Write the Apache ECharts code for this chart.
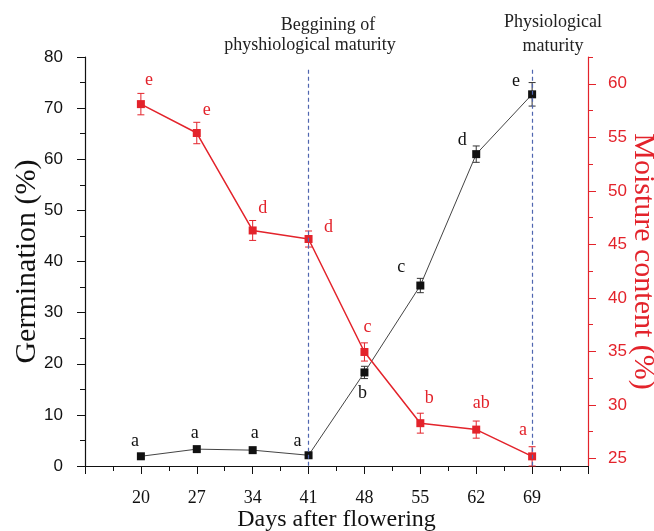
<!DOCTYPE html>
<html>
<head>
<meta charset="utf-8">
<script src="https://cdn.jsdelivr.net/npm/echarts@6/dist/echarts.min.js"></script>
<style>
html, body { margin: 0; padding: 0; background: #fff; }
#chart { width: 654px; height: 531px; }
</style>
</head>
<body>
<div id="chart"></div>
<script>
// days after flowering
var days = [20, 27, 34, 41, 48, 55, 62, 69];
// germination (%) - left axis
var germination = [1.9, 3.3, 3.1, 2.1, 18.3, 35.3, 61.0, 72.7];
var germErr = [0.4, 0.4, 0.4, 0.4, 1.2, 1.4, 1.6, 2.3];
var germLetters = ['a', 'a', 'a', 'a', 'b', 'c', 'd', 'e'];
// moisture content (%) - right axis
var moisture = [58.1, 55.4, 46.3, 45.5, 34.95, 28.3, 27.7, 25.2];
var moistErr = [1.0, 1.0, 0.93, 0.75, 0.85, 0.93, 0.8, 0.9];
var moistLetters = ['e', 'e', 'd', 'd', 'c', 'b', 'ab', 'a'];
// stage markers
var stageDays = [41, 69];
var leftTicks = [0, 10, 20, 30, 40, 50, 60, 70, 80];
var rightTicks = [25, 30, 35, 40, 45, 50, 55, 60];
var rightMinor = [27.5, 32.5, 37.5, 42.5, 47.5, 52.5, 57.5, 62.5];

var RED = '#e3232b';
var BLACK = '#111';
var SERIF = '"Liberation Serif", "Times New Roman", serif';
var SANS = '"Liberation Sans", Arial, sans-serif';

// label offsets (px) for the significance letters
var germOffsets = [[-6, -15], [-2, -16], [2, -17], [-11, -14], [-2, 21], [-19, -18], [-14, -14], [-16, -13]];
var moistOffsets = [[8, -24], [10, -23], [10, -22], [20, -12], [3, -25], [9, -25], [5, -26], [-9, -26]];

function points(vals, letters, offsets) {
  return days.map(function (d, i) {
    return {
      value: [d, vals[i]],
      label: { formatter: letters[i], offset: offsets[i] }
    };
  });
}

function errData(vals, errs) {
  return days.map(function (d, i) { return [d, vals[i], errs[i]]; });
}

function errorBars(color) {
  return function (params, api) {
    var x = api.value(0), y = api.value(1), e = api.value(2);
    var hi = api.coord([x, y + e]);
    var lo = api.coord([x, y - e]);
    var w = 3.5;
    var st = { stroke: color, lineWidth: 1 };
    return {
      type: 'group',
      children: [
        { type: 'line', shape: { x1: hi[0], y1: hi[1], x2: lo[0], y2: lo[1] }, style: st },
        { type: 'line', shape: { x1: hi[0] - w, y1: hi[1], x2: hi[0] + w, y2: hi[1] }, style: st },
        { type: 'line', shape: { x1: lo[0] - w, y1: lo[1], x2: lo[0] + w, y2: lo[1] }, style: st }
      ]
    };
  };
}

var chart = echarts.init(document.getElementById('chart'));

var option = {
  backgroundColor: '#fff',
  animation: false,
  grid: { left: 85, right: 66, top: 57, bottom: 65, containLabel: false, outerBoundsMode: 'none' },
  graphic: [
    { type: 'text', style: { text: 'Beggining of', x: 328, y: 25, font: '18px ' + SERIF, fill: '#222', textAlign: 'center', textVerticalAlign: 'middle' } },
    { type: 'text', style: { text: 'physhiological maturity', x: 310, y: 45, font: '18px ' + SERIF, fill: '#222', textAlign: 'center', textVerticalAlign: 'middle' } },
    { type: 'text', style: { text: 'Physiological', x: 553, y: 22, font: '18px ' + SERIF, fill: '#222', textAlign: 'center', textVerticalAlign: 'middle' } },
    { type: 'text', style: { text: 'maturity', x: 553, y: 46, font: '18px ' + SERIF, fill: '#222', textAlign: 'center', textVerticalAlign: 'middle' } }
  ],
  xAxis: {
    type: 'value',
    min: 13,
    max: 76,
    interval: 7,
    name: 'Days after flowering',
    nameLocation: 'middle',
    nameGap: 42,
    nameMoveOverlap: false,
    nameTextStyle: { fontFamily: SERIF, fontSize: 24, color: '#111' },
    axisLine: { lineStyle: { color: '#111', width: 1.2 } },
    axisTick: { length: 8, lineStyle: { color: '#111' } },
    minorTick: { show: true, splitNumber: 2, length: 5, lineStyle: { color: '#111' } },
    axisLabel: { customValues: days, margin: 23, fontFamily: SERIF, fontSize: 18, color: '#111' },
    splitLine: { show: false },
    minorSplitLine: { show: false }
  },
  yAxis: [
    {
      type: 'value',
      min: 0,
      max: 80,
      interval: 10,
      name: 'Germination (%)',
      nameLocation: 'middle',
      nameGap: 43,
      nameMoveOverlap: false,
      nameTextStyle: { fontFamily: SERIF, fontSize: 30, color: '#111' },
      axisLine: { show: true, lineStyle: { color: '#111', width: 1.2 } },
      axisTick: { show: true, length: 8, lineStyle: { color: '#111' } },
      minorTick: { show: true, splitNumber: 2, length: 5, lineStyle: { color: '#111' } },
      axisLabel: { customValues: leftTicks, margin: 22, fontFamily: SANS, fontSize: 17, color: '#111' },
      splitLine: { show: false },
      minorSplitLine: { show: false }
    },
    {
      type: 'value',
      position: 'right',
      min: 24.3,
      max: 62.5,
      name: 'Moisture content (%)',
      nameLocation: 'middle',
      nameRotate: -90,
      nameGap: 40,
      nameMoveOverlap: false,
      nameTextStyle: { fontFamily: SERIF, fontSize: 30, color: RED },
      axisLine: { show: true, lineStyle: { color: RED, width: 1.2 } },
      axisTick: { show: true, customValues: rightTicks, length: 8, lineStyle: { color: RED } },
      axisLabel: { customValues: rightTicks, margin: 20, fontFamily: SANS, fontSize: 17, color: RED },
      splitLine: { show: false }
    },
    {
      type: 'value',
      position: 'right',
      min: 24.3,
      max: 62.5,
      axisLine: { show: false },
      axisTick: { show: true, customValues: rightMinor, length: 5, lineStyle: { color: RED } },
      axisLabel: { show: false },
      splitLine: { show: false }
    }
  ],
  series: [
    {
      name: 'Germination error',
      type: 'custom',
      yAxisIndex: 0,
      renderItem: errorBars('#333'),
      data: errData(germination, germErr),
      z: 2
    },
    {
      name: 'Moisture error',
      type: 'custom',
      yAxisIndex: 1,
      renderItem: errorBars(RED),
      data: errData(moisture, moistErr),
      z: 2
    },
    {
      name: 'Germination',
      type: 'line',
      yAxisIndex: 0,
      data: points(germination, germLetters, germOffsets),
      symbol: 'rect',
      symbolSize: 8,
      itemStyle: { color: BLACK },
      lineStyle: { color: '#444', width: 1 },
      label: { show: true, position: 'inside', fontFamily: SERIF, fontSize: 18, color: '#111' },
      z: 4,
      markLine: {
        silent: true,
        symbol: 'none',
        label: { show: false },
        lineStyle: { color: '#4f66b0', type: [4, 3], width: 1.2 },
        data: stageDays.map(function (d) {
          return [{ coord: [d, 77.5] }, { coord: [d, 0] }];
        })
      }
    },
    {
      name: 'Moisture',
      type: 'line',
      yAxisIndex: 1,
      data: points(moisture, moistLetters, moistOffsets),
      symbol: 'rect',
      symbolSize: 8,
      itemStyle: { color: RED },
      lineStyle: { color: RED, width: 1.5 },
      label: { show: true, position: 'inside', fontFamily: SERIF, fontSize: 18, color: RED },
      z: 4
    }
  ]
};

chart.setOption(option);
</script>
</body>
</html>
